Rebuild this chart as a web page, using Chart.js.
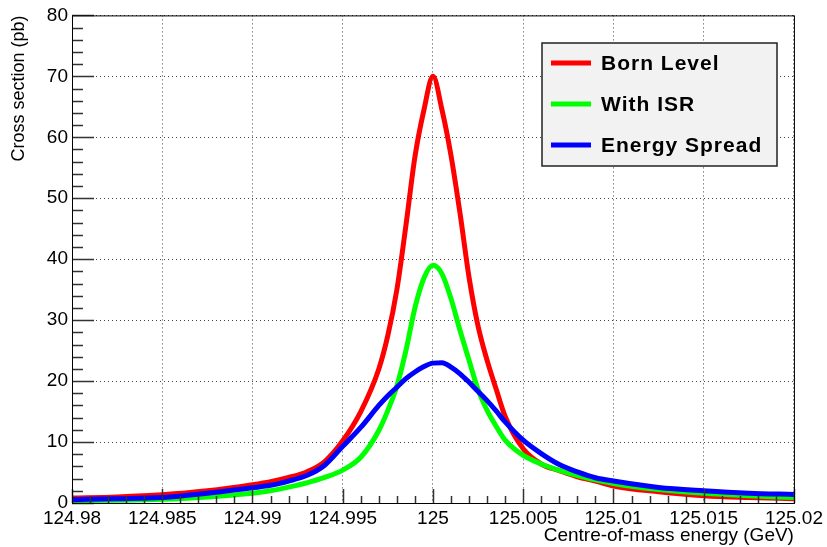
<!DOCTYPE html>
<html>
<head>
<meta charset="utf-8">
<script src="https://cdn.jsdelivr.net/npm/chart.js@4/dist/chart.umd.min.js"></script>
<style>
  html, body { margin: 0; padding: 0; background: #fff; }
  #wrap { width: 827px; height: 547px; }
</style>
</head>
<body>
<div id="wrap"><canvas id="xsecChart" width="827" height="547"></canvas></div>
<script>
// Centre-of-mass energy points (GeV)
const energy = [124.98, 124.9825, 124.985, 124.9875, 124.99, 124.991, 124.992, 124.993, 124.994, 124.995,
  124.996, 124.997, 124.9975, 124.998, 124.9985, 124.999, 124.9995, 125.0, 125.0005, 125.001,
  125.0015, 125.002, 125.0025, 125.003, 125.0035, 125.004, 125.005, 125.006, 125.007, 125.008, 125.009,
  125.01, 125.0125, 125.015, 125.0175, 125.02];

// Cross sections (pb)
const bornLevel = [0.8, 1.0, 1.35, 2.0, 3.0, 3.5, 4.2, 5.1, 6.8, 10.2,
  15.0, 22.0, 27.5, 35.0, 45.5, 56.8, 64.5, 70.0, 64.5, 57.0,
  47.5, 37.0, 29.0, 23.4, 18.7, 14.2, 8.9, 6.4, 5.3, 4.3, 3.6,
  2.8, 1.85, 1.2, 0.9, 0.7];
const withISR = [0.4, 0.45, 0.6, 1.0, 1.6, 2.0, 2.6, 3.3, 4.2, 5.4,
  7.5, 11.9, 15.2, 19.2, 25.0, 32.0, 36.9, 39.0, 37.6, 33.5,
  28.3, 23.4, 18.6, 15.2, 12.6, 10.3, 7.8, 6.4, 5.35, 4.5, 3.8,
  3.2, 2.2, 1.6, 1.2, 0.9];
const energySpread = [0.55, 0.7, 0.9, 1.6, 2.5, 2.9, 3.6, 4.5, 6.2, 9.3,
  12.4, 16.0, 17.6, 19.0, 20.4, 21.5, 22.4, 22.95, 23.0, 22.3,
  21.2, 19.8, 18.3, 16.8, 15.1, 13.3, 10.3, 8.1, 6.3, 5.1, 4.15,
  3.6, 2.55, 2.0, 1.6, 1.4];

const seriesNames = ['Born Level', 'With ISR', 'Energy Spread'];
const seriesColors = ['#ff0000', '#00ff00', '#0000ff'];

// Tick labels
const xTicks = [124.98, 124.985, 124.99, 124.995, 125, 125.005, 125.01, 125.015, 125.02];
const yTicks = [0, 10, 20, 30, 40, 50, 60, 70, 80];

const FONT = '"Liberation Sans", Arial, Helvetica, sans-serif';

function toPoints(ys) {
    return energy.map((e, i) => ({ x: e, y: ys[i] }));
}

// ROOT-style frame, inward ticks and boxed legend
const rootStyle = {
    id: 'rootStyle',
    afterDraw(chart) {
        const ctx = chart.ctx;
        const area = chart.chartArea;
        const xs = chart.scales.x;
        const ys = chart.scales.y;
        ctx.save();

        // ticks
        ctx.strokeStyle = '#333';
        ctx.lineWidth = 1.5;
        ctx.beginPath();
        for (let i = 0; i < xTicks.length; i++) {
            const px = Math.round(xs.getPixelForValue(xTicks[i])) + 0.5;
            ctx.moveTo(px, area.bottom);
            ctx.lineTo(px, area.bottom - 14);
            if (i < xTicks.length - 1) {
                for (let k = 1; k < 5; k++) {
                    const v = xTicks[i] + k * 0.001;
                    const mx = Math.round(xs.getPixelForValue(v)) + 0.5;
                    ctx.moveTo(mx, area.bottom);
                    ctx.lineTo(mx, area.bottom - 7);
                }
            }
        }
        for (let i = 0; i < yTicks.length; i++) {
            const py = Math.round(ys.getPixelForValue(yTicks[i])) + 0.5;
            ctx.moveTo(area.left, py);
            ctx.lineTo(area.left + 22, py);
            if (i < yTicks.length - 1) {
                for (let k = 1; k < 5; k++) {
                    const my = Math.round(ys.getPixelForValue(yTicks[i] + k * 2)) + 0.5;
                    ctx.moveTo(area.left, my);
                    ctx.lineTo(area.left + 11, my);
                }
            }
        }
        ctx.stroke();

        // frame
        ctx.strokeStyle = '#000';
        ctx.lineWidth = 1;
        ctx.strokeRect(area.left + 0.5, area.top + 0.5, area.right - area.left, area.bottom - area.top);

        // legend box
        const lx = 542, ly = 43, lw = 235, lh = 123;
        ctx.fillStyle = '#f2f2f2';
        ctx.fillRect(lx, ly, lw, lh);
        ctx.strokeStyle = '#222';
        ctx.lineWidth = 1.5;
        ctx.strokeRect(lx, ly, lw, lh);

        ctx.font = 'bold 21px ' + FONT;
        ctx.textBaseline = 'middle';
        ctx.textAlign = 'left';
        if ('letterSpacing' in ctx) ctx.letterSpacing = '1px';
        seriesNames.forEach((name, i) => {
            const cy = 63 + i * 41;
            ctx.strokeStyle = seriesColors[i];
            ctx.lineWidth = 5;
            ctx.beginPath();
            ctx.moveTo(551, cy);
            ctx.lineTo(591, cy);
            ctx.stroke();
            ctx.fillStyle = '#000';
            ctx.fillText(name, 601, cy + 1);
        });
        ctx.restore();
    }
};

const ctx = document.getElementById('xsecChart').getContext('2d');

new Chart(ctx, {
    type: 'line',
    data: {
        datasets: [
            { label: seriesNames[0], data: toPoints(bornLevel), borderColor: seriesColors[0], order: 3 },
            { label: seriesNames[1], data: toPoints(withISR), borderColor: seriesColors[1], order: 2 },
            { label: seriesNames[2], data: toPoints(energySpread), borderColor: seriesColors[2], order: 1 }
        ]
    },
    options: {
        responsive: false,
        animation: false,
        layout: { padding: { top: 12, right: 32, left: 0, bottom: 0 } },
        elements: {
            line: { borderWidth: 5, cubicInterpolationMode: 'monotone', fill: false },
            point: { radius: 0 }
        },
        plugins: {
            legend: { display: false },
            tooltip: { enabled: false }
        },
        scales: {
            x: {
                type: 'linear',
                min: 124.98,
                max: 125.02,
                afterBuildTicks: (scale) => { scale.ticks = xTicks.map(v => ({ value: v })); },
                afterFit: (scale) => { scale.height = 44; },
                ticks: {
                    autoSkip: false,
                    maxRotation: 0,
                    padding: 4,
                    color: '#000',
                    font: { family: FONT, size: 19 },
                    callback: (v) => String(parseFloat(v.toFixed(4)))
                },
                grid: { color: '#444', drawTicks: false, lineWidth: 1 },
                border: { display: false, dash: [1, 3] },
                title: {
                    display: true,
                    text: 'Centre-of-mass energy (GeV)',
                    align: 'end',
                    color: '#000',
                    font: { family: FONT, size: 19 },
                    padding: { top: 0, bottom: 0 }
                }
            },
            y: {
                min: 0,
                max: 80,
                afterBuildTicks: (scale) => { scale.ticks = yTicks.map(v => ({ value: v })); },
                afterFit: (scale) => { scale.width = 72; },
                ticks: {
                    padding: 4,
                    color: '#000',
                    font: { family: FONT, size: 19 }
                },
                grid: { color: '#444', drawTicks: false, lineWidth: 1 },
                border: { display: false, dash: [1, 3] },
                title: {
                    display: true,
                    text: 'Cross section (pb)',
                    align: 'end',
                    color: '#000',
                    font: { family: FONT, size: 18 },
                    padding: { top: 8, bottom: 0 }
                }
            }
        }
    },
    plugins: [rootStyle]
});
</script>
</body>
</html>
